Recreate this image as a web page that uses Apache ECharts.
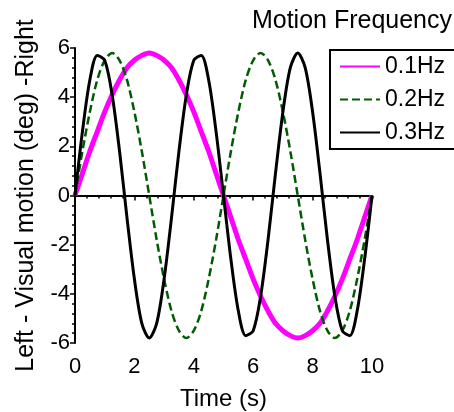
<!DOCTYPE html>
<html>
<head>
<meta charset="utf-8">
<script src="https://cdn.jsdelivr.net/npm/echarts@6/dist/echarts.min.js"></script>
<style>html,body{margin:0;padding:0;background:#fff;}#c{width:454px;height:412px;}</style>
</head>
<body>
<div id="c"></div>
<script>
const time = [0,0.25,0.5,0.75,1,1.25,1.5,1.75,2,2.25,2.5,2.75,3,3.25,3.5,3.75,4,4.25,4.5,4.75,5,5.25,5.5,5.75,6,6.25,6.5,6.75,7,7.25,7.5,7.75,8,8.25,8.5,8.75,9,9.25,9.5,9.75,10];
const hz01 = [0,0.9,1.8,2.6,3.4,4.1,4.7,5.2,5.5,5.7,5.8,5.7,5.5,5.2,4.7,4.1,3.4,2.6,1.8,0.9,0,-0.9,-1.8,-2.6,-3.4,-4.1,-4.7,-5.2,-5.5,-5.7,-5.8,-5.7,-5.5,-5.2,-4.7,-4.1,-3.4,-2.6,-1.8,-0.9,0];
const hz02 = [0,1.8,3.4,4.7,5.5,5.8,5.5,4.7,3.4,1.8,0,-1.8,-3.4,-4.7,-5.5,-5.8,-5.5,-4.7,-3.4,-1.8,0,1.8,3.4,4.7,5.5,5.8,5.5,4.7,3.4,1.8,0,-1.8,-3.4,-4.7,-5.5,-5.8,-5.5,-4.7,-3.4,-1.8,0];
const hz03 = [0,2.6,4.7,5.7,5.5,4.1,1.8,-0.9,-3.4,-5.2,-5.8,-5.2,-3.4,-0.9,1.8,4.1,5.5,5.7,4.7,2.6,0,-2.6,-4.7,-5.7,-5.5,-4.1,-1.8,0.9,3.4,5.2,5.8,5.2,3.4,0.9,-1.8,-4.1,-5.5,-5.7,-4.7,-2.6,0];
const seriesNames = ['0.1Hz','0.2Hz','0.3Hz'];
const xTicks = [0,2,4,6,8,10];
const yTicks = [-6,-4,-2,0,2,4,6];

const FONT = 'Liberation Sans, Arial, sans-serif';
const pairs = arr => time.map((t,i)=>[t,arr[i]]);

const chart = echarts.init(document.getElementById('c'), null, {renderer:'canvas'});
chart.setOption({
  animation:false,
  backgroundColor:'#fff',
  title:{text:'Motion Frequency', right:2, top:9, padding:0,
    textStyle:{fontFamily:FONT,fontSize:25,fontWeight:'normal',color:'#000'}},
  legend:{orient:'vertical', left:330, top:50, data:seriesNames,
    borderColor:'#000', borderWidth:2, padding:[5,60,5,9],
    itemWidth:40, itemHeight:14, itemGap:10,
    itemStyle:{opacity:0},
    textStyle:{fontFamily:FONT,fontSize:23,color:'#000',lineHeight:22}},
  grid:{left:75,right:82,top:48,bottom:69,outerBoundsMode:'none',containLabel:false},
  xAxis:[{
    type:'value', min:xTicks[0], max:xTicks[xTicks.length-1], interval:2, position:'bottom',
    axisLine:{show:false,onZero:false}, axisTick:{show:false}, splitLine:{show:false},
    name:'Time (s)', nameLocation:'middle', nameGap:44,
    nameTextStyle:{fontFamily:FONT,fontSize:24,color:'#000'},
    axisLabel:{fontFamily:FONT,fontSize:22,color:'#000',margin:13}
  },{
    type:'value', min:xTicks[0], max:xTicks[xTicks.length-1], interval:2, position:'bottom',
    axisLine:{show:true,onZero:true,lineStyle:{color:'#000',width:2}},
    axisTick:{show:true,length:5,lineStyle:{color:'#000',width:1.5}},
    minorTick:{show:true,splitNumber:5,length:3,lineStyle:{color:'#000',width:1.5}},
    axisLabel:{show:false}, splitLine:{show:false}
  }],
  yAxis:{
    type:'value', min:yTicks[0], max:yTicks[yTicks.length-1], interval:2,
    axisLine:{show:true,onZero:false,lineStyle:{color:'#000',width:2}},
    axisTick:{show:true,length:5,lineStyle:{color:'#000',width:1.5}},
    minorTick:{show:true,splitNumber:5,length:3,lineStyle:{color:'#000',width:1.5}},
    splitLine:{show:false},
    name:'Left - Visual motion (deg) -Right', nameLocation:'middle', nameRotate:90, nameGap:36,
    nameTextStyle:{fontFamily:FONT,fontSize:25,color:'#000'},
    axisLabel:{fontFamily:FONT,fontSize:22,color:'#000',margin:5}
  },
  series:[
    {name:seriesNames[0], type:'line', data:pairs(hz01), symbol:'none', smooth:0.3, xAxisIndex:0,
     color:'#ff00ff', lineStyle:{color:'#ff00ff',width:5}},
    {name:seriesNames[1], type:'line', data:pairs(hz02), symbol:'none', smooth:0.3, xAxisIndex:0,
     color:'#005c00', lineStyle:{color:'#005c00',width:2.5,type:[8,4]}},
    {name:seriesNames[2], type:'line', data:pairs(hz03), symbol:'none', smooth:0.3, xAxisIndex:0,
     color:'#000', lineStyle:{color:'#000',width:3}}
  ]
});
</script>
</body>
</html>
